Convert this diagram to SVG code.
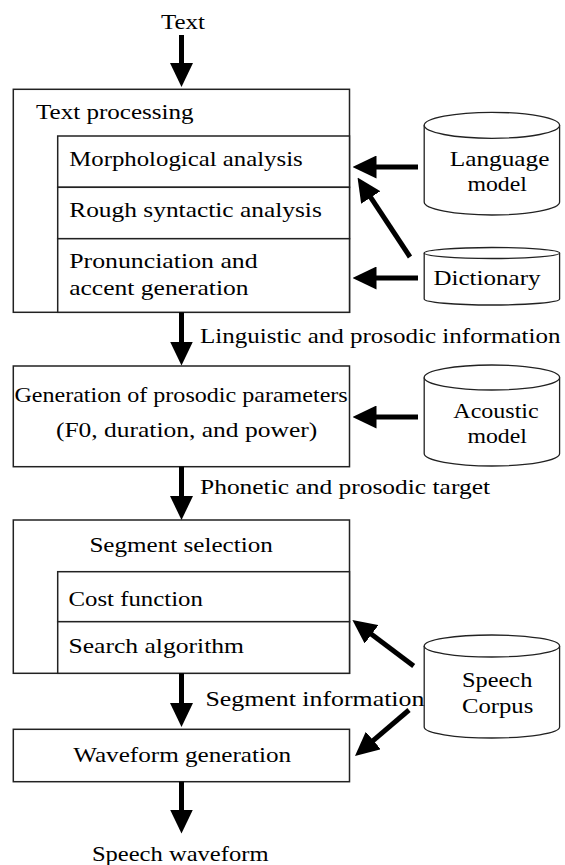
<svg xmlns="http://www.w3.org/2000/svg" width="565" height="865" viewBox="0 0 565 865">
<style>
.box{fill:#fff;stroke:#222;stroke-width:1.5}
.cyl{fill:#fff;stroke:#222;stroke-width:1.3}
.arr{stroke:#000;stroke-width:5;fill:none;marker-end:url(#ah)}
</style>
<defs>
<marker id="ah" markerUnits="userSpaceOnUse" viewBox="0 0 24 23" markerWidth="24" markerHeight="23" refX="1" refY="11.5" orient="auto">
<path d="M0,0 L24,11.5 L0,23 z" fill="#000"/>
</marker>
</defs>
<rect width="565" height="865" fill="#fff"/>
<g font-family="Liberation Serif, Tinos, Times New Roman, Noto Serif, DejaVu Serif, serif" font-size="22" fill="#000">

<g id="input-label"><text x="161" y="29.3" textLength="44" lengthAdjust="spacingAndGlyphs">Text</text></g>

<g id="text-processing">
<rect class="box" x="13.3" y="89.3" width="336.2" height="223"/>
<text x="36" y="119" textLength="157.5" lengthAdjust="spacingAndGlyphs">Text processing</text>
<rect class="box" x="57.7" y="136" width="291.8" height="51.3"/>
<text x="69.2" y="165.7" textLength="233.5" lengthAdjust="spacingAndGlyphs">Morphological analysis</text>
<rect class="box" x="57.7" y="187.3" width="291.8" height="51.4"/>
<text x="69.2" y="216.7" textLength="252.6" lengthAdjust="spacingAndGlyphs">Rough syntactic analysis</text>
<rect class="box" x="57.7" y="238.7" width="291.8" height="73.6"/>
<text x="69.2" y="268.3" textLength="188.5" lengthAdjust="spacingAndGlyphs">Pronunciation and</text>
<text x="69.2" y="295" textLength="179.4" lengthAdjust="spacingAndGlyphs">accent generation</text>
</g>

<g id="language-model">
<path class="cyl" d="M424.2,125.3 L424.2,202 A67.7,13 0 0 0 559.6,202 L559.6,125.3"/>
<ellipse class="cyl" cx="491.9" cy="125.3" rx="67.7" ry="13"/>
<text x="449.7" y="165.7" textLength="99.8" lengthAdjust="spacingAndGlyphs">Language</text>
<text x="467.4" y="191" textLength="59.5" lengthAdjust="spacingAndGlyphs">model</text>
</g>

<g id="dictionary">
<path class="cyl" d="M424.2,253 L424.2,299 A67.7,6 0 0 0 559.6,299 L559.6,253"/>
<ellipse class="cyl" cx="491.9" cy="253" rx="67.7" ry="5.5"/>
<text x="433.5" y="285" textLength="107" lengthAdjust="spacingAndGlyphs">Dictionary</text>
</g>

<g id="prosodic-generation">
<rect class="box" x="13.3" y="366" width="336.2" height="100.7"/>
<text x="14.4" y="401.7" textLength="333.3" lengthAdjust="spacingAndGlyphs">Generation of prosodic parameters</text>
<text x="55.9" y="436.7" textLength="261.3" lengthAdjust="spacingAndGlyphs">(F0, duration, and power)</text>
</g>

<g id="acoustic-model">
<path class="cyl" d="M424.2,377.5 L424.2,453.5 A67.7,12.5 0 0 0 559.6,453.5 L559.6,377.5"/>
<ellipse class="cyl" cx="491.9" cy="377.5" rx="67.7" ry="12.5"/>
<text x="453.3" y="418.3" textLength="85.4" lengthAdjust="spacingAndGlyphs">Acoustic</text>
<text x="467.4" y="443.3" textLength="59.5" lengthAdjust="spacingAndGlyphs">model</text>
</g>

<g id="segment-selection">
<rect class="box" x="13.3" y="520" width="336.2" height="153.3"/>
<text x="89.4" y="551.7" textLength="183.4" lengthAdjust="spacingAndGlyphs">Segment selection</text>
<rect class="box" x="57.7" y="571.7" width="291.8" height="50"/>
<text x="68.5" y="605.7" textLength="134.4" lengthAdjust="spacingAndGlyphs">Cost function</text>
<rect class="box" x="57.7" y="621.7" width="291.8" height="51.6"/>
<text x="68.5" y="653.3" textLength="175.5" lengthAdjust="spacingAndGlyphs">Search algorithm</text>
</g>

<g id="speech-corpus">
<path class="cyl" d="M424.2,646 L424.2,727 A67.7,11 0 0 0 559.6,727 L559.6,646"/>
<ellipse class="cyl" cx="491.9" cy="646" rx="67.7" ry="11"/>
<text x="462" y="686.7" textLength="70.3" lengthAdjust="spacingAndGlyphs">Speech</text>
<text x="462" y="713.3" textLength="71.3" lengthAdjust="spacingAndGlyphs">Corpus</text>
</g>

<g id="waveform-generation">
<rect class="box" x="13.3" y="729.3" width="336.2" height="52.4"/>
<text x="73.2" y="761.7" textLength="218" lengthAdjust="spacingAndGlyphs">Waveform generation</text>
</g>

<g id="output-label"><text x="91.9" y="860.7" textLength="176.6" lengthAdjust="spacingAndGlyphs">Speech waveform</text></g>

<g id="connectors">
<line class="arr" x1="181.5" y1="35" x2="181.5" y2="64"/>
<line class="arr" x1="181.5" y1="312.3" x2="181.5" y2="342.5"/>
<text x="200" y="342.7" textLength="360.4" lengthAdjust="spacingAndGlyphs">Linguistic and prosodic information</text>
<line class="arr" x1="181.5" y1="466.7" x2="181.5" y2="497"/>
<text x="200" y="494" textLength="290" lengthAdjust="spacingAndGlyphs">Phonetic and prosodic target</text>
<line class="arr" x1="181.5" y1="673.3" x2="181.5" y2="704"/>
<text x="205.4" y="706" textLength="219" lengthAdjust="spacingAndGlyphs">Segment information</text>
<line class="arr" x1="181.5" y1="781.7" x2="181.5" y2="810.5"/>
<line class="arr" x1="418" y1="167" x2="375.5" y2="167"/>
<line class="arr" x1="418" y1="278" x2="375.5" y2="278"/>
<line class="arr" x1="410" y1="257" x2="370.2" y2="196.7"/>
<line class="arr" x1="418" y1="417" x2="375.5" y2="417"/>
<line class="arr" x1="413.7" y1="666" x2="370.8" y2="633.8"/>
<line class="arr" x1="409" y1="710" x2="372.5" y2="741.1"/>
</g>
</g>
</svg>
